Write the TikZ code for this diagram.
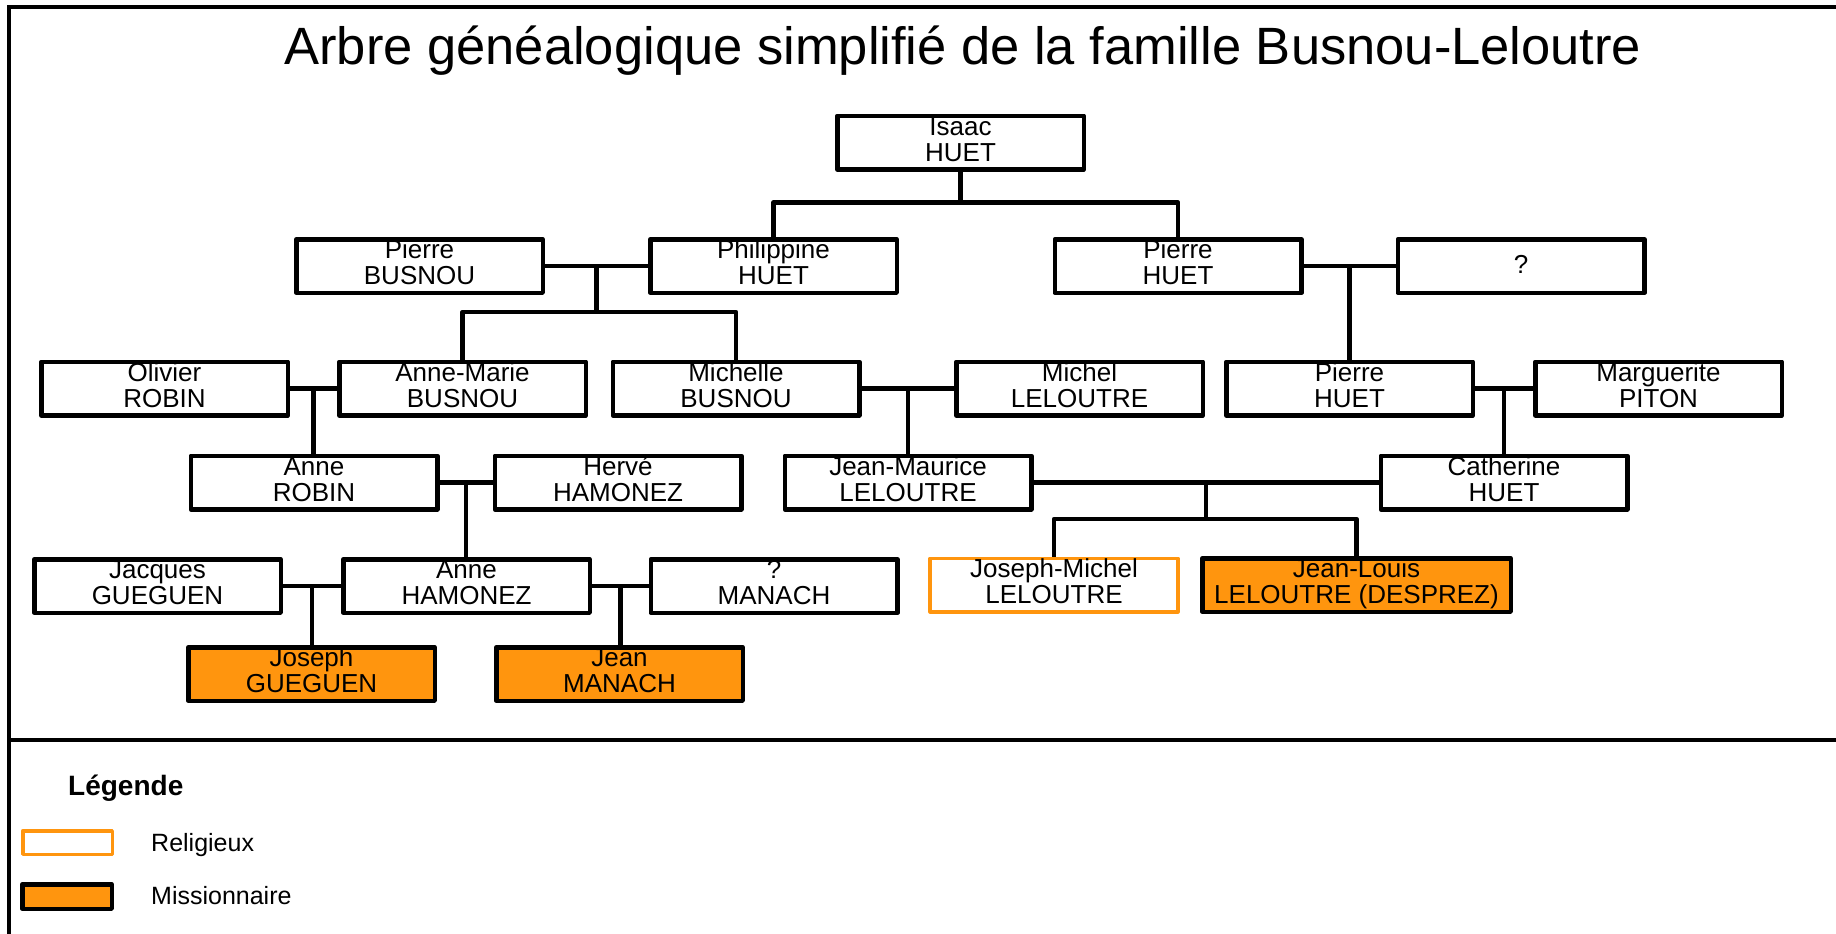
\documentclass[tikz,border=0pt]{standalone}
\usepackage{fontspec}
\setmainfont{Liberation Sans}
\usetikzlibrary{calc}
\definecolor{orng}{HTML}{FF950E}
\begin{document}
\begin{tikzpicture}[x=1pt,y=-1pt,
  person/.style={draw=black, line width=4.5pt, line join=round, fill=white,
    minimum width=246.5pt, minimum height=53.5pt, inner sep=0pt, align=center,
    font=\fontsize{26}{26}\selectfont, text height=44.6pt, text depth=7.6pt},
  religious/.style={person, draw=orng, line width=3.5pt, minimum width=248pt},
  missionary/.style={person, fill=orng},
  conn/.style={line width=4.5pt, line join=round},
  frame/.style={line width=4pt}]
\useasboundingbox (0,0) rectangle (1836,934);
\clip (0,0) rectangle (1836,934);
\fill[white] (0,0) rectangle (1836,934);
\draw[frame] (9,950) -- (9,7) -- (1850,7);
\draw[frame] (9,740) -- (1850,740);

\node[font=\fontsize{52.5}{52.5}\selectfont, anchor=base, inner sep=0pt] (title) at (963,64) {Arbre généalogique simplifié de la famille Busnou-Leloutre};

% generation 0
\node[person] (isaac) at (960.5,142.5) {Isaac\\HUET};
% generation 1
\node[person] (pbus) at (419.5,266) {Pierre\\BUSNOU};
\node[person] (phil) at (773.5,266) {Philippine\\HUET};
\node[person] (phuet) at (1178,266) {Pierre\\HUET};
\node[person, text height=18.6pt, text depth=4pt] (unk) at (1521,266) {?};
% generation 2
\node[person] (oliv) at (164.5,388.5) {Olivier\\ROBIN};
\node[person] (amb) at (462.5,388.5) {Anne-Marie\\BUSNOU};
\node[person] (mich) at (736,388.5) {Michelle\\BUSNOU};
\node[person] (michel) at (1079.5,388.5) {Michel\\LELOUTRE};
\node[person] (phuetb) at (1349.5,388.5) {Pierre\\HUET};
\node[person] (marg) at (1658.5,388.5) {Marguerite\\PITON};
% generation 3
\node[person] (arob) at (314,482.5) {Anne\\ROBIN};
\node[person] (herve) at (618,482.5) {Hervé\\HAMONEZ};
\node[person] (jml) at (908,482.5) {Jean-Maurice\\LELOUTRE};
\node[person] (cath) at (1504,482.5) {Catherine\\HUET};
% generation 4
\node[person] (jacq) at (157.5,586) {Jacques\\GUEGUEN};
\node[person] (aham) at (466.5,586) {Anne\\HAMONEZ};
\node[person] (manach) at (774,586) {?\\MANACH};
\node[religious] (jmich) at (1054,585) {Joseph-Michel\\LELOUTRE};
\node[missionary, minimum width=308.5pt] (jlouis) at (1356.5,585) {Jean-Louis\\LELOUTRE (DESPREZ)};
% generation 5
\node[missionary] (jgue) at (311.5,674) {Joseph\\GUEGUEN};
\node[missionary] (jman) at (619.5,674) {Jean\\MANACH};

% connectors
\draw[conn] (isaac.south) -- ++(0,31) coordinate (c0);
\draw[conn] (phil.north) |- (c0) -| (phuet.north);

\draw[conn] (pbus.east) -- (phil.west);
\coordinate (c1) at ($(pbus.east)!.5!(phil.west)$);
\draw[conn] (c1) -- ++(0,46) coordinate (c1b);
\draw[conn] (amb.north) |- (c1b) -| (mich.north);

\draw[conn] (phuet.east) -- (unk.west);
\coordinate (c2) at ($(phuet.east)!.5!(unk.west)$);
\draw[conn] (c2) -- (c2 |- phuetb.north);

\draw[conn] (oliv.east) -- (amb.west);
\coordinate (c3) at ($(oliv.east)!.5!(amb.west)$);
\draw[conn] (c3) -- (c3 |- arob.north);

\draw[conn] (mich.east) -- (michel.west);
\coordinate (c4) at ($(mich.east)!.5!(michel.west)$);
\draw[conn] (c4) -- (c4 |- jml.north);

\draw[conn] (phuetb.east) -- (marg.west);
\coordinate (c5) at ($(phuetb.east)!.5!(marg.west)$);
\draw[conn] (c5) -- (c5 |- cath.north);

\draw[conn] (arob.east) -- (herve.west);
\coordinate (c6) at ($(arob.east)!.5!(herve.west)$);
\draw[conn] (c6) -- (c6 |- aham.north);

\draw[conn] (jml.east) -- (cath.west);
\coordinate (c7) at ($(jml.east)!.5!(cath.west)$);
\draw[conn] (c7) -- ++(0,36.5) coordinate (c7b);
\draw[conn] (jmich.north) |- (c7b) -| (jlouis.north);

\draw[conn] (jacq.east) -- (aham.west);
\coordinate (c8) at ($(jacq.east)!.5!(aham.west)$);
\draw[conn] (c8) -- (c8 |- jgue.north);

\draw[conn] (aham.east) -- (manach.west);
\coordinate (c9) at ($(aham.east)!.5!(manach.west)$);
\draw[conn] (c9) -- (c9 |- jman.north);

% legend
\node[font=\bfseries\fontsize{28}{28}\selectfont, anchor=base west, inner sep=0pt] (leg) at (68,795) {Légende};
\node[draw=orng, line width=3.5pt, line join=round, fill=white, minimum width=89.5pt, minimum height=23.5pt, inner sep=0pt] (lrel) at (67.5,842.5) {};
\node[draw=black, line width=4.5pt, line join=round, fill=orng, minimum width=89.5pt, minimum height=24.5pt, inner sep=0pt] (lmis) at (67,896.5) {};
\node[anchor=base west, inner sep=0pt, font=\fontsize{25}{25}\selectfont] (trel) at (151,851) {Religieux};
\node[anchor=base west, inner sep=0pt, font=\fontsize{25}{25}\selectfont] (tmis) at (151,904) {Missionnaire};
\end{tikzpicture}
\end{document}
